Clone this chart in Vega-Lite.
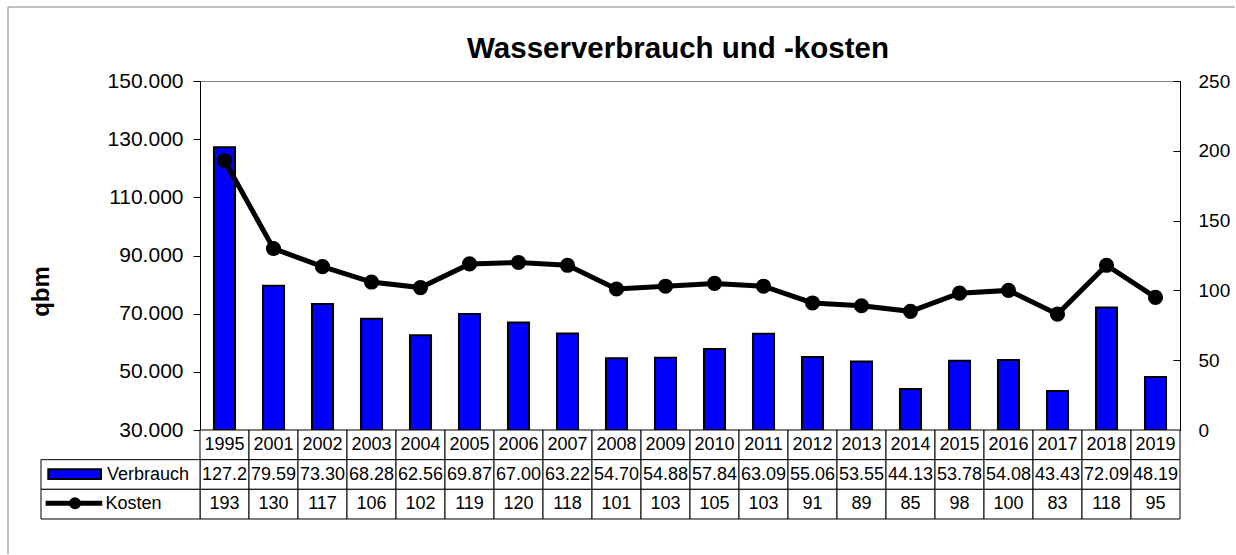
{
  "$schema": "https://vega.github.io/schema/vega-lite/v6.json",
  "background": "white",
  "padding": {"left": 7, "top": 6, "right": 0, "bottom": 0},
  "config": {"font": "Liberation Sans", "view": {"stroke": null}},
  "datasets": {
    "wasser": [
      {"year": "1995", "Verbrauch": 127.2, "Kosten": 193},
      {"year": "2001", "Verbrauch": 79.59, "Kosten": 130},
      {"year": "2002", "Verbrauch": 73.30, "Kosten": 117},
      {"year": "2003", "Verbrauch": 68.28, "Kosten": 106},
      {"year": "2004", "Verbrauch": 62.56, "Kosten": 102},
      {"year": "2005", "Verbrauch": 69.87, "Kosten": 119},
      {"year": "2006", "Verbrauch": 67.00, "Kosten": 120},
      {"year": "2007", "Verbrauch": 63.22, "Kosten": 118},
      {"year": "2008", "Verbrauch": 54.70, "Kosten": 101},
      {"year": "2009", "Verbrauch": 54.88, "Kosten": 103},
      {"year": "2010", "Verbrauch": 57.84, "Kosten": 105},
      {"year": "2011", "Verbrauch": 63.09, "Kosten": 103},
      {"year": "2012", "Verbrauch": 55.06, "Kosten": 91},
      {"year": "2013", "Verbrauch": 53.55, "Kosten": 89},
      {"year": "2014", "Verbrauch": 44.13, "Kosten": 85},
      {"year": "2015", "Verbrauch": 53.78, "Kosten": 98},
      {"year": "2016", "Verbrauch": 54.08, "Kosten": 100},
      {"year": "2017", "Verbrauch": 43.43, "Kosten": 83},
      {"year": "2018", "Verbrauch": 72.09, "Kosten": 118},
      {"year": "2019", "Verbrauch": 48.19, "Kosten": 95}
    ],
    "single": [{"item": "legend"}]
  },
  "spacing": 0,
  "bounds": "flush",
  "vconcat": [
    {
      "width": 980,
      "height": 349,
      "title": {"text": "Wasserverbrauch und -kosten", "fontSize": 29.5, "fontWeight": "bold", "color": "black", "anchor": "middle", "dx": -12, "frame": "group", "offset": 6},
      "data": {"name": "wasser"},
      "view": {"stroke": "#808080", "strokeWidth": 1},
      "encoding": {
        "x": {"field": "year", "type": "ordinal", "sort": null, "axis": null, "scale": {"paddingInner": 0.57, "paddingOuter": 0.285}}
      },
      "layer": [
        {
          "mark": {"type": "bar", "fill": "#0000FF", "stroke": "black", "strokeWidth": 2},
          "encoding": {
            "y": {"field": "Verbrauch", "type": "quantitative", "scale": {"domain": [30, 150], "zero": false, "nice": false},
              "axis": {"title": "qbm", "orient": "left", "values": [30, 50, 70, 90, 110, 130, 150], "format": ".3f", "grid": false,
                "labelFontSize": 21, "labelColor": "black", "labelPadding": 10, "tickSize": 7, "tickColor": "black", "domainColor": "black",
                "titleFontSize": 24, "titleFontWeight": "bold", "titleColor": "black", "titleAngle": -90, "titleX": -159, "titleY": 210, "titleBaseline": "middle", "titleAlign": "center"}},
            "y2": {"datum": 30}
          }
        },
        {
          "layer": [
            {
              "mark": {"type": "line", "color": "black", "strokeWidth": 5},
              "encoding": {
                "y": {"field": "Kosten", "type": "quantitative", "scale": {"domain": [0, 250], "nice": false},
                  "axis": {"title": null, "orient": "right", "values": [0, 50, 100, 150, 200, 250], "grid": false,
                    "labelFontSize": 19, "labelColor": "black", "labelPadding": 25, "tickSize": -7, "tickColor": "black", "domainColor": "black"}}
              }
            },
            {
              "mark": {"type": "point", "filled": true, "color": "black", "opacity": 1, "size": 230},
              "encoding": {
                "y": {"field": "Kosten", "type": "quantitative"}
              }
            }
          ]
        }
      ],
      "resolve": {"scale": {"y": "independent"}}
    },
    {
      "width": 980,
      "height": 89,
      "data": {"name": "wasser"},
      "layer": [
        {
          "data": {"name": "single"},
          "mark": {"type": "rule", "color": "#808080", "strokeWidth": 1},
          "encoding": {
            "x": {"datum": -3.918, "type": "quantitative", "scale": {"domain": [0, 20], "nice": false, "zero": false}, "axis": null},
            "x2": {"datum": 21.12},
            "y": {"datum": -14.258, "type": "quantitative", "scale": {"domain": [0, 3], "reverse": true, "nice": false, "zero": false}, "axis": null}
          }
        },
        {
          "data": {"name": "single"},
          "mark": {"type": "rule", "color": "#808080", "strokeWidth": 1},
          "encoding": {
            "x": {"datum": -3.918, "type": "quantitative", "scale": {"domain": [0, 20], "nice": false, "zero": false}, "axis": null},
            "y": {"datum": -14.258, "type": "quantitative", "scale": {"domain": [0, 3], "reverse": true, "nice": false, "zero": false}, "axis": null},
            "y2": {"datum": 4.18}
          }
        },
        {
          "mark": {"type": "rect", "fill": "white", "stroke": "black", "strokeWidth": 1},
          "encoding": {
            "x": {"field": "year", "type": "ordinal", "sort": null, "axis": null, "scale": {"paddingInner": 0, "paddingOuter": 0}},
            "y": {"datum": 0, "type": "quantitative", "scale": {"domain": [0, 3], "reverse": true, "nice": false, "zero": false}, "axis": null},
            "y2": {"datum": 1}
          }
        },
        {
          "mark": {"type": "rect", "fill": "white", "stroke": "black", "strokeWidth": 1},
          "encoding": {
            "x": {"field": "year", "type": "ordinal", "sort": null, "axis": null, "scale": {"paddingInner": 0, "paddingOuter": 0}},
            "y": {"datum": 1, "type": "quantitative", "scale": {"domain": [0, 3], "reverse": true, "nice": false, "zero": false}, "axis": null},
            "y2": {"datum": 2}
          }
        },
        {
          "mark": {"type": "rect", "fill": "white", "stroke": "black", "strokeWidth": 1},
          "encoding": {
            "x": {"field": "year", "type": "ordinal", "sort": null, "axis": null, "scale": {"paddingInner": 0, "paddingOuter": 0}},
            "y": {"datum": 2, "type": "quantitative", "scale": {"domain": [0, 3], "reverse": true, "nice": false, "zero": false}, "axis": null},
            "y2": {"datum": 3}
          }
        },
        {
          "data": {"name": "single"},
          "mark": {"type": "rect", "fill": "white", "stroke": "black", "strokeWidth": 1},
          "encoding": {
            "x": {"datum": -3.245, "type": "quantitative", "scale": {"domain": [0, 20], "nice": false, "zero": false}, "axis": null},
            "x2": {"datum": 0},
            "y": {"datum": 1, "type": "quantitative", "scale": {"domain": [0, 3], "reverse": true, "nice": false, "zero": false}, "axis": null},
            "y2": {"datum": 2}
          }
        },
        {
          "data": {"name": "single"},
          "mark": {"type": "rect", "fill": "white", "stroke": "black", "strokeWidth": 1},
          "encoding": {
            "x": {"datum": -3.245, "type": "quantitative", "scale": {"domain": [0, 20], "nice": false, "zero": false}, "axis": null},
            "x2": {"datum": 0},
            "y": {"datum": 2, "type": "quantitative", "scale": {"domain": [0, 3], "reverse": true, "nice": false, "zero": false}, "axis": null},
            "y2": {"datum": 3}
          }
        },
        {
          "data": {"name": "single"},
          "mark": {"type": "rect", "fill": "#0000FF", "stroke": "black", "strokeWidth": 2},
          "encoding": {
            "x": {"datum": -3.096, "type": "quantitative", "scale": {"domain": [0, 20], "nice": false, "zero": false}, "axis": null},
            "x2": {"datum": -2.02},
            "y": {"datum": 1.325, "type": "quantitative", "scale": {"domain": [0, 3], "reverse": true, "nice": false, "zero": false}, "axis": null},
            "y2": {"datum": 1.652}
          }
        },
        {
          "data": {"name": "single"},
          "mark": {"type": "rule", "color": "black", "strokeWidth": 5},
          "encoding": {
            "x": {"datum": -3.15, "type": "quantitative", "scale": {"domain": [0, 20], "nice": false, "zero": false}, "axis": null},
            "x2": {"datum": -1.995},
            "y": {"datum": 2.47, "type": "quantitative", "scale": {"domain": [0, 3], "reverse": true, "nice": false, "zero": false}, "axis": null}
          }
        },
        {
          "data": {"name": "single"},
          "mark": {"type": "point", "filled": true, "color": "black", "opacity": 1, "size": 140},
          "encoding": {
            "x": {"datum": -2.551, "type": "quantitative", "scale": {"domain": [0, 20], "nice": false, "zero": false}, "axis": null},
            "y": {"datum": 2.47, "type": "quantitative", "scale": {"domain": [0, 3], "reverse": true, "nice": false, "zero": false}, "axis": null}
          }
        },
        {
          "data": {"name": "single"},
          "mark": {"type": "text", "fontSize": 18, "color": "black", "align": "left", "baseline": "middle", "text": "Verbrauch"},
          "encoding": {
            "x": {"datum": -1.9, "type": "quantitative", "scale": {"domain": [0, 20], "nice": false, "zero": false}, "axis": null},
            "y": {"datum": 1.5, "type": "quantitative", "scale": {"domain": [0, 3], "reverse": true, "nice": false, "zero": false}, "axis": null}
          }
        },
        {
          "data": {"name": "single"},
          "mark": {"type": "text", "fontSize": 18, "color": "black", "align": "left", "baseline": "middle", "text": "Kosten"},
          "encoding": {
            "x": {"datum": -1.929, "type": "quantitative", "scale": {"domain": [0, 20], "nice": false, "zero": false}, "axis": null},
            "y": {"datum": 2.5, "type": "quantitative", "scale": {"domain": [0, 3], "reverse": true, "nice": false, "zero": false}, "axis": null}
          }
        },
        {
          "mark": {"type": "text", "fontSize": 18, "color": "black", "baseline": "middle"},
          "encoding": {
            "x": {"field": "year", "type": "ordinal", "sort": null, "axis": null, "scale": {"paddingInner": 0, "paddingOuter": 0}},
            "y": {"datum": 0.5, "type": "quantitative", "scale": {"domain": [0, 3], "reverse": true, "nice": false, "zero": false}, "axis": null},
            "text": {"field": "year"}
          }
        },
        {
          "mark": {"type": "text", "fontSize": 18, "color": "black", "baseline": "middle"},
          "encoding": {
            "x": {"field": "year", "type": "ordinal", "sort": null, "axis": null, "scale": {"paddingInner": 0, "paddingOuter": 0}},
            "y": {"datum": 1.5, "type": "quantitative", "scale": {"domain": [0, 3], "reverse": true, "nice": false, "zero": false}, "axis": null},
            "text": {"field": "Verbrauch", "type": "quantitative", "format": ".4r"}
          }
        },
        {
          "mark": {"type": "text", "fontSize": 18, "color": "black", "baseline": "middle"},
          "encoding": {
            "x": {"field": "year", "type": "ordinal", "sort": null, "axis": null, "scale": {"paddingInner": 0, "paddingOuter": 0}},
            "y": {"datum": 2.5, "type": "quantitative", "scale": {"domain": [0, 3], "reverse": true, "nice": false, "zero": false}, "axis": null},
            "text": {"field": "Kosten", "type": "quantitative"}
          }
        }
      ],
      "resolve": {"scale": {"x": "independent"}}
    }
  ]
}
